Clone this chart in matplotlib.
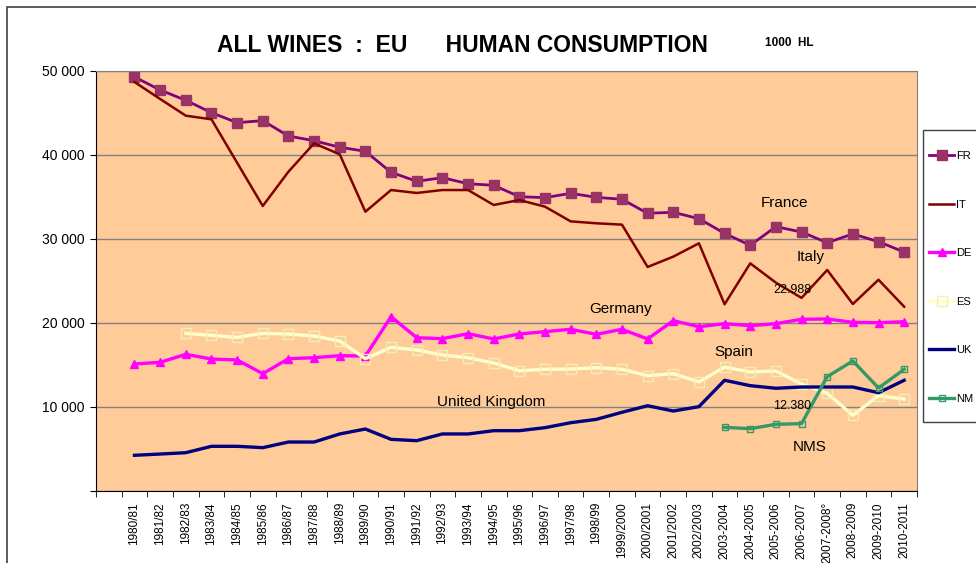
import matplotlib.pyplot as plt
import matplotlib.patches as mpatches
import numpy as np

plt.rcParams['font.family'] = ['Liberation Sans', 'DejaVu Sans']

seasons = ["1980/81", "1981/82", "1982/83", "1983/84", "1984/85", "1985/86",
           "1986/87", "1987/88", "1988/89", "1989/90", "1990/91", "1991/92",
           "1992/93", "1993/94", "1994/95", "1995/96", "1996/97", "1997/98",
           "1998/99", "1999/2000", "2000/2001", "2001/2002", "2002/2003",
           "2003-2004", "2004-2005", "2005-2006", "2006-2007", "2007-2008°",
           "2008-2009", "2009-2010", "2010-2011"]

fr = [49290, 47740, 46510, 45040, 43850, 44090, 42260, 41700, 40920, 40440,
      37940, 36870, 37300, 36580, 36390, 35040, 34920, 35440, 34960, 34730,
      33060, 33180, 32420, 30670, 29250, 31470, 30830, 29560, 30600, 29680,
      28450]
it = [48690, 46670, 44680, 44250, 39080, 33930, 38010, 41390, 40080, 33250,
      35830, 35480, 35830, 35830, 34050, 34640, 33850, 32100, 31870, 31710,
      26670, 27900, 29490, 22230, 27100, 24800, 22988, 26310, 22260, 25150,
      21940]
de = [15120, 15320, 16270, 15710, 15600, 13970, 15750, 15870, 16110, 16070,
      20750, 18250, 18130, 18730, 18100, 18690, 18970, 19250, 18650, 19250,
      18100, 20280, 19560, 19920, 19680, 19920, 20440, 20480, 20080, 20040,
      20150]
es = [np.nan, np.nan, 18770, 18530, 18290, 18770, 18690, 18450, 17860, 15750,
      17110, 16790, 16190, 15870, 15240, 14320, 14490, 14520, 14680, 14490,
      13730, 13970, 12980, 14760, 14170, 14290, 12740, 11630, 9010, 11350,
      10950]
uk = [4250, 4400, 4560, 5320, 5320, 5160, 5830, 5830, 6790, 7380,
      6150, 5990, 6790, 6790, 7180, 7180, 7540, 8130, 8530, 9370,
      10150, 9520, 10040, 13180, 12540, 12230, 12380, 12380, 12380, 11700,
      13180]
nms = [np.nan] * 23 + [7580, 7420, 7940, 8020, 13610, 15480, 12260, 14490]

fig = plt.figure(figsize=(9.76, 5.63), dpi=100)
ax = fig.add_axes([96 / 976, 1 - 491 / 563, 821 / 976, 420 / 563])
ax.set_facecolor("#FFCC99")

# outer chart frame
fig.patches.append(mpatches.Rectangle((7 / 976, -0.1), 1.2, 1 - 7 / 563 + 0.1,
                                      transform=fig.transFigure, fill=False,
                                      edgecolor="#404040", linewidth=1.2))

x = np.arange(len(seasons))
ax.plot(x, fr, color="#800080", lw=2.0, marker="s", ms=6.5,
        mfc="#993366", mec="#993366", label="FR")
ax.plot(x, it, color="#800000", lw=1.8, label="IT")
ax.plot(x, de, color="#FF00FF", lw=2.4, marker="^", ms=6,
        mfc="#FF00FF", mec="#FF00FF", label="DE")
ax.plot(x, es, color="#FFFFCC", lw=2.4, marker="s", ms=6.5,
        mfc="none", mec="#F2EFB8", mew=1.0, label="ES")
ax.plot(x, uk, color="#000080", lw=2.4, label="UK")
ax.plot(x, nms, color="#339966", lw=2.4, marker="s", ms=4,
        mfc="none", mec="#339966", mew=1.0, label="NM")

ax.set_xlim(-1.5, len(seasons) - 0.5)
ax.set_ylim(0, 50000)
ax.set_yticks(np.arange(0, 50001, 10000))
ax.set_yticklabels(["", "10 000", "20 000", "30 000", "40 000", "50 000"],
                   fontsize=10)
ax.yaxis.grid(True, color="#808080", lw=1)
ax.set_axisbelow(True)

ax.set_xticks(x)
ax.set_xticklabels(seasons, rotation=90, fontsize=8.5)
ax.tick_params(axis="x", length=0, pad=8)
ax.set_xticks(np.arange(-1.5, len(seasons)), minor=True)
ax.tick_params(axis="x", which="minor", length=4, direction="out")
ax.tick_params(axis="y", length=4, direction="out", pad=4)

for s in ["top", "right"]:
    ax.spines[s].set_color("#808080")
for s in ["left", "bottom"]:
    ax.spines[s].set_color("black")

fig.text(462 / 976, 1 - 45 / 563, "ALL WINES  :  EU      HUMAN CONSUMPTION",
         ha="center", va="center", fontsize=16.5, fontweight="bold")
fig.text(789 / 976, 1 - 43 / 563, "1000  HL", ha="center", va="center",
         fontsize=8.5, fontweight="bold")

ax.text(25.33, 34290, "France", fontsize=11, ha="center", va="center")
ax.text(26.35, 27860, "Italy", fontsize=11, ha="center", va="center")
ax.text(25.64, 23930, "22.988", fontsize=9, ha="center", va="center")
ax.text(18.94, 21670, "Germany", fontsize=11, ha="center", va="center")
ax.text(23.34, 16550, "Spain", fontsize=11, ha="center", va="center")
ax.text(13.91, 10600, "United Kingdom", fontsize=11, ha="center", va="center")
ax.text(25.64, 10120, "12.380", fontsize=9, ha="center", va="center")
ax.text(26.3, 5240, "NMS", fontsize=11, ha="center", va="center")

# legend entries without frame, frame drawn separately (runs off the right edge)
leg = fig.legend(loc="upper left", bbox_to_anchor=(929 / 976, 1 - 151 / 563),
                 frameon=False, fontsize=8, handlelength=2.25,
                 handletextpad=0.15, labelspacing=3.47, borderpad=0,
                 borderaxespad=0)
fig.patches.append(mpatches.Rectangle((923 / 976, 1 - 422 / 563), 0.2,
                                      292 / 563, transform=fig.transFigure,
                                      fill=False, edgecolor="#404040",
                                      linewidth=1))

fig.savefig("out.png", dpi=100)
